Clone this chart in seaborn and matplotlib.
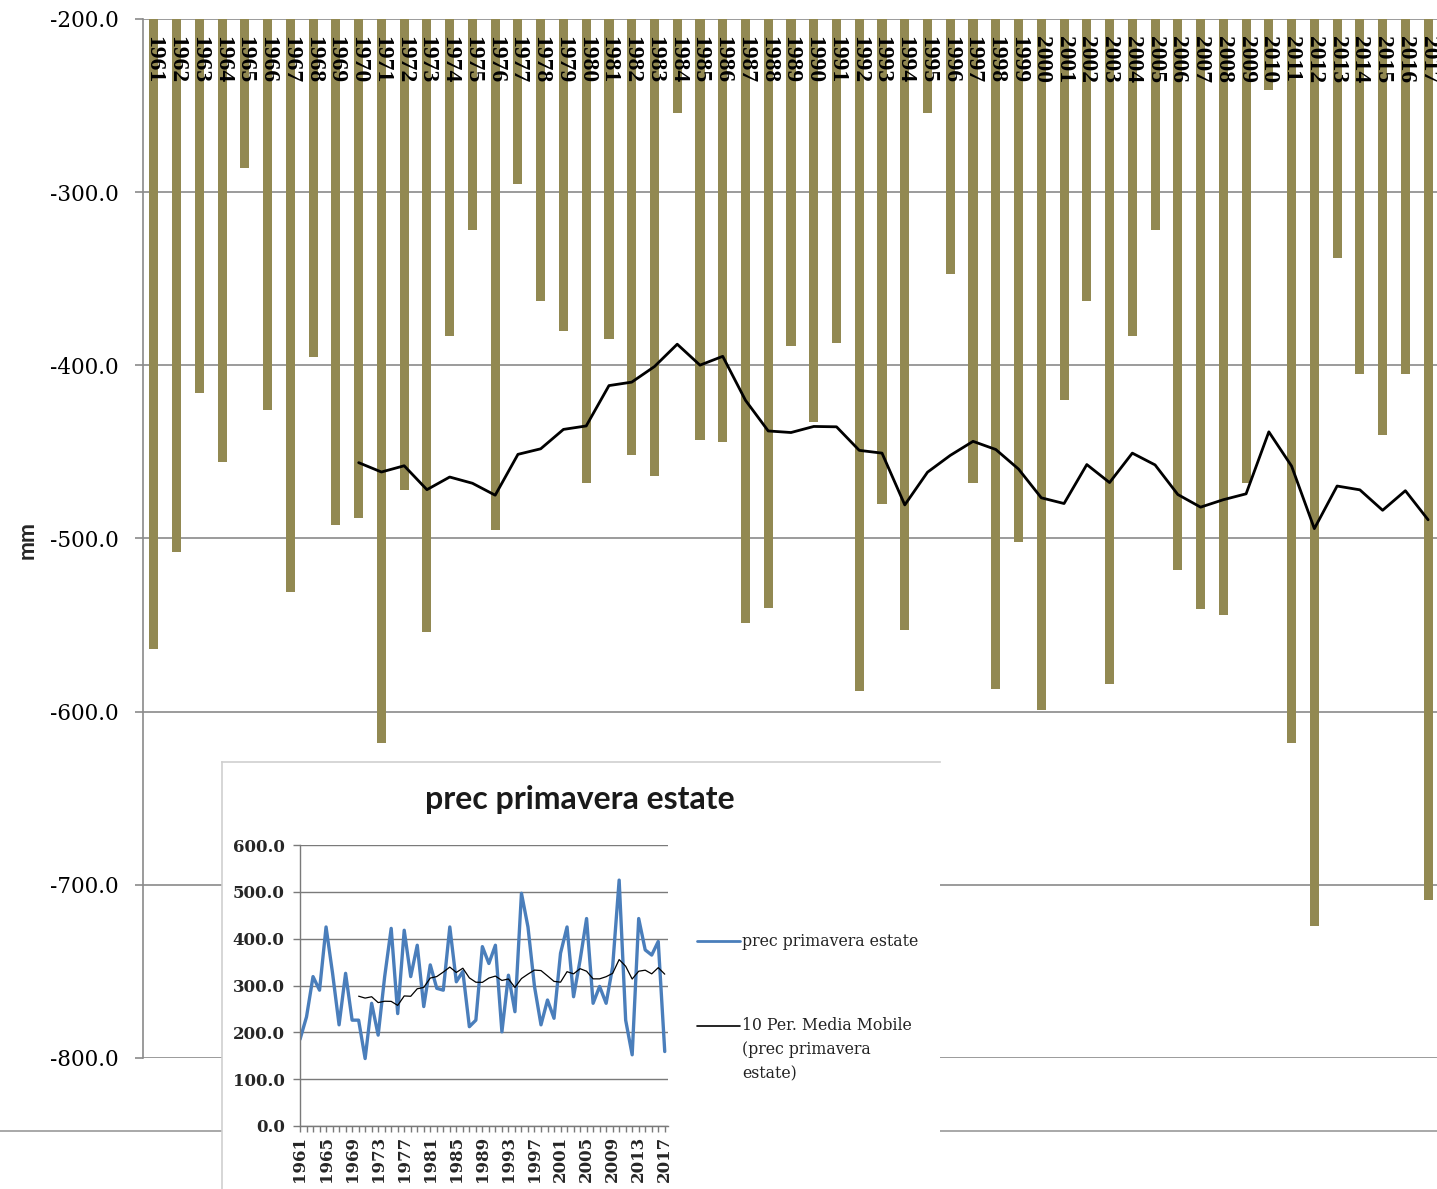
import numpy as np
import pandas as pd
import matplotlib
matplotlib.use("Agg")
import matplotlib.pyplot as plt
import seaborn as sns
from matplotlib.lines import Line2D

# ---- data -------------------------------------------------------------
years = list(range(1961, 2018))

# annual water balance (mm)
water_balance = [-564, -508, -416, -456, -286, -426, -531, -395, -492, -488,
                 -618, -472, -554, -383, -322, -495, -295, -363, -380, -468,
                 -385, -452, -464, -254, -443, -444, -549, -540, -389, -433,
                 -387, -588, -480, -553, -254, -347, -468, -587, -502, -599,
                 -420, -363, -584, -383, -322, -518, -541, -544, -468, -241,
                 -618, -724, -338, -405, -440, -405, -709]

# spring + summer precipitation (mm)
prec_primavera_estate = [185, 233, 319, 290, 425, 326, 216, 326, 226, 226,
                         144, 262, 194, 319, 422, 240, 418, 319, 386, 255,
                         344, 294, 290, 425, 308, 330, 212, 226, 383, 347,
                         386, 201, 322, 244, 497, 425, 298, 216, 269, 230,
                         369, 425, 276, 354, 443, 262, 298, 262, 340, 525,
                         226, 152, 443, 376, 365, 394, 159]

main_yticks = [-200, -300, -400, -500, -600, -700, -800]
inset_yticks = [0, 100, 200, 300, 400, 500, 600]
inset_xticks = years[::4]

inset_title = "prec primavera estate"
legend_labels = ["prec primavera estate",
                 "10 Per. Media Mobile\n(prec primavera\nestate)"]

# ---- style ------------------------------------------------------------
W, H, DPI = 1437, 1189, 100
BAR = "#928952"
GRID = "#8a8a8a"
BLUE = "#4A7EBB"

sns.set_theme(style="white")
plt.rcParams["font.family"] = ["DejaVu Serif"]
plt.rcParams["axes.unicode_minus"] = False

fig = plt.figure(figsize=(W / DPI, H / DPI), dpi=DPI)
fig.patch.set_facecolor("white")


def px_rect(x0, y0, x1, y1):
    return [x0 / W, 1 - y1 / H, (x1 - x0) / W, (y1 - y0) / H]


# ---- main chart -------------------------------------------------------
ax = fig.add_axes(px_rect(142.5, 19, 1439.5, 1058))
ax.set_zorder(0)
df = pd.DataFrame({"year": [str(y) for y in years], "value": water_balance})
sns.barplot(data=df, x="year", y="value", color=BAR, saturation=1,
            width=0.4, linewidth=0, ax=ax)

ma = df["value"].rolling(10).mean()
idx = np.arange(len(df))
sns.lineplot(x=idx[9:], y=ma.values[9:], color="black", lw=2.0, ax=ax)

ax.set_xlim(-0.5, len(years) - 0.5)
ax.set_ylim(-800, -200)
ax.set_yticks(main_yticks)
ax.set_yticklabels([f"{v:.1f}" for v in main_yticks])
ax.set_xticks([])
ax.set_xlabel("")
ax.set_ylabel("")
ax.yaxis.grid(True, color=GRID, lw=1.2)
ax.set_axisbelow(True)
for s in ("top", "right", "bottom"):
    ax.spines[s].set_visible(False)
ax.spines["left"].set_color(GRID)
ax.spines["left"].set_linewidth(1.2)
ax.tick_params(axis="y", left=True, length=6, width=1.2, color=GRID,
               labelsize=15.5, pad=11, labelcolor="black")

for i, yr in enumerate(years):
    ax.annotate(str(yr), xy=(i, 1), xycoords=ax.get_xaxis_transform(),
                xytext=(0, -12), textcoords="offset points", rotation=270,
                ha="center", va="top", fontsize=17, fontweight="bold",
                fontfamily="Liberation Serif", color="black", zorder=5)

fig.text(27 / W, 1 - 540 / H, "mm", rotation=90, ha="center", va="center",
         fontfamily="Lato", fontweight="bold", fontsize=16.5)

fig.add_artist(Line2D([0, 1], [1 - 1131 / H] * 2, transform=fig.transFigure,
                      color="#9a9a9a", lw=1.2, zorder=1))

# ---- inset chart ------------------------------------------------------
bx0, bx1, by0, by1 = 222, 940, 762, 1194

box = fig.add_axes(px_rect(bx0, by0, bx1, by1))
box.set_zorder(3)
box.set_facecolor("white")
box.set_xticks([])
box.set_yticks([])
box.set_xlim(0, 1)
box.set_ylim(0, 1)
for s in ("right", "bottom"):
    box.spines[s].set_visible(False)
for s in ("top", "left"):
    box.spines[s].set_color("#cfcfcf")
    box.spines[s].set_linewidth(1.2)


def bx(px):
    return (px - bx0) / (bx1 - bx0)


def by(py):
    return 1 - (py - by0) / (by1 - by0)


box.text(bx(580), by(800), inset_title, ha="center", va="center",
         fontfamily="Lato", fontweight="bold", fontsize=23, color="#1a1a1a")

# legend keys and labels
box.plot([bx(697), bx(740)], [by(941)] * 2, color=BLUE, lw=2.0)
box.text(bx(742), by(941), legend_labels[0], ha="left", va="center",
         fontsize=11.3, color="#222222")
box.plot([bx(697), bx(740)], [by(1026)] * 2, color="black", lw=1.2)
box.text(bx(742), by(1017), legend_labels[1], ha="left", va="top",
         fontsize=11.3, color="#222222", linespacing=1.55)

iax = fig.add_axes(px_rect(300, 845, 668, 1126))
iax.set_zorder(4)
iax.set_facecolor("none")
idf = pd.DataFrame({"year": years, "prec": prec_primavera_estate})
sns.lineplot(data=idf, x="year", y="prec", color=BLUE, lw=2.4, ax=iax)
ima = idf["prec"].rolling(10).mean()
sns.lineplot(x=np.array(years)[9:], y=ima.values[9:], color="black",
             lw=0.9, ax=iax)

iax.set_xlim(1961, 2017.5)
iax.set_ylim(0, 600)
iax.set_yticks(inset_yticks)
iax.set_yticklabels([f"{v:.1f}" for v in inset_yticks])
iax.set_xticks(inset_xticks)
iax.set_xticklabels([str(y) for y in inset_xticks], rotation=90)
iax.set_xticks(years, minor=True)
iax.set_xlabel("")
iax.set_ylabel("")
iax.yaxis.grid(True, color="#7a7a7a", lw=1.0)
iax.set_axisbelow(True)
for s in ("top", "right"):
    iax.spines[s].set_visible(False)
for s in ("left", "bottom"):
    iax.spines[s].set_color("#7a7a7a")
    iax.spines[s].set_linewidth(1.0)
iax.tick_params(axis="y", left=True, length=5, width=1, color="#7a7a7a",
                labelsize=12, pad=6)
iax.tick_params(axis="x", which="both", bottom=True, length=4, width=1,
                color="#7a7a7a", labelsize=12, pad=3)
for lab in iax.get_xticklabels() + iax.get_yticklabels():
    lab.set_fontweight("bold")

fig.savefig("out.png", dpi=DPI, facecolor="white")
